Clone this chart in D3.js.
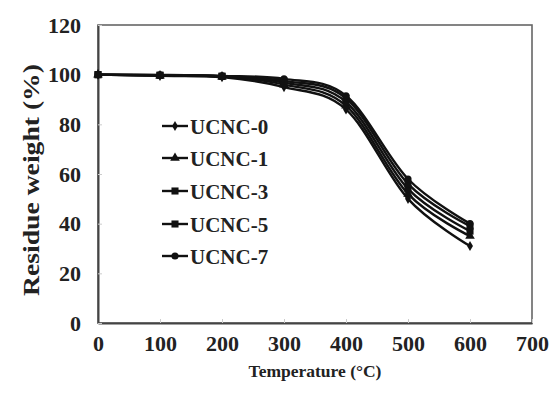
<!DOCTYPE html>
<html>
<head>
<meta charset="utf-8">
<script src="https://cdn.jsdelivr.net/npm/d3@7"></script>
<style>
  html, body { margin: 0; padding: 0; background: #fff; }
  svg { display: block; }
  text { font-family: "Liberation Serif", "Times New Roman", serif; font-weight: bold; fill: #222; }
</style>
</head>
<body>
<svg id="chart" width="554" height="401"></svg>
<script>
// TGA residue curves
const temperatures = [0, 100, 200, 300, 400, 500, 600];
const seriesNames = ["UCNC-0", "UCNC-1", "UCNC-3", "UCNC-5", "UCNC-7"];
const ucnc0 = [100, 99.5, 99.0, 95.0, 86.0, 50.0, 31.0];
const ucnc1 = [100, 99.6, 99.2, 96.0, 87.5, 52.0, 35.0];
const ucnc3 = [100, 99.7, 99.3, 96.8, 89.0, 54.0, 37.0];
const ucnc5 = [100, 99.8, 99.4, 97.5, 90.5, 56.0, 39.0];
const ucnc7 = [100, 99.9, 99.5, 98.3, 91.5, 58.0, 40.0];
const xTicks = [0, 100, 200, 300, 400, 500, 600, 700];
const yTicks = [0, 20, 40, 60, 80, 100, 120];
const markerTypes = ["diamond", "triangle", "square", "square", "circle"];

const seriesValues = [ucnc0, ucnc1, ucnc3, ucnc5, ucnc7];

const svg = d3.select("#chart");
const plot = { left: 98, right: 532, top: 25, bottom: 323 };

const x = d3.scaleLinear().domain([0, 700]).range([plot.left, plot.right]);
const y = d3.scaleLinear().domain([0, 120]).range([plot.bottom, plot.top]);

// plot frame
svg.append("rect")
  .attr("x", plot.left).attr("y", plot.top)
  .attr("width", plot.right - plot.left).attr("height", plot.bottom - plot.top)
  .attr("fill", "none").attr("stroke", "#666").attr("stroke-width", 1.6);

// axes with short inward ticks
const xAxis = svg.append("g")
  .attr("transform", `translate(0,${plot.bottom})`)
  .call(d3.axisBottom(x).tickValues(xTicks).tickSizeInner(-4).tickSizeOuter(0).tickPadding(24));
const yAxis = svg.append("g")
  .attr("transform", `translate(${plot.left},0)`)
  .call(d3.axisLeft(y).tickValues(yTicks).tickSizeInner(-4).tickSizeOuter(0).tickPadding(17));

[xAxis, yAxis].forEach(g => {
  g.select(".domain").attr("stroke", "#444").attr("stroke-width", 2);
  g.selectAll(".tick line").attr("stroke", "#ccc").attr("stroke-width", 1);
  g.selectAll(".tick text")
    .style("font-family", "'Liberation Serif', 'Times New Roman', serif")
    .style("font-weight", "bold")
    .style("font-size", "22px")
    .attr("fill", "#222");
});
xAxis.selectAll(".tick text").attr("dy", "0.2em");

// axis titles
svg.append("text")
  .attr("x", (plot.left + plot.right) / 2).attr("y", 377)
  .attr("text-anchor", "middle")
  .style("font-size", "17.5px")
  .text("Temperature (°C)");

svg.append("text")
  .attr("transform", "translate(39,180) rotate(-90)")
  .attr("text-anchor", "middle")
  .attr("textLength", 232)
  .attr("lengthAdjust", "spacingAndGlyphs")
  .style("font-size", "23px")
  .text("Residue weight (%)");

// marker shapes
function markerPath(type) {
  const sym = {
    diamond: d3.symbolDiamond,
    triangle: d3.symbolTriangle,
    square: d3.symbolSquare,
    circle: d3.symbolCircle
  }[type];
  const size = { diamond: 30, triangle: 40, square: 50, circle: 40 }[type];
  return d3.symbol().type(sym).size(size)();
}

const line = d3.line()
  .x((d, i) => x(temperatures[i]))
  .y(d => y(d))
  .curve(d3.curveCatmullRom.alpha(0));

const series = svg.append("g").selectAll("g.series")
  .data(seriesValues)
  .join("g").attr("class", "series");

series.append("path")
  .attr("d", d => line(d))
  .attr("fill", "none")
  .attr("stroke", "#111")
  .attr("stroke-width", 2.4);

series.each(function(vals, si) {
  d3.select(this).selectAll("path.mk")
    .data(vals)
    .join("path").attr("class", "mk")
    .attr("transform", (d, i) => `translate(${x(temperatures[i])},${y(d)})`)
    .attr("d", markerPath(markerTypes[si]))
    .attr("fill", "#111");
});

// legend
const legendY = [126, 158, 191, 224, 256];
const legend = svg.append("g").selectAll("g.lg")
  .data(seriesNames)
  .join("g").attr("class", "lg")
  .attr("transform", (d, i) => `translate(162,${legendY[i]})`);

legend.append("line")
  .attr("x1", 0).attr("x2", 26).attr("y1", 0).attr("y2", 0)
  .attr("stroke", "#111").attr("stroke-width", 2.4);
legend.append("path")
  .attr("transform", "translate(13,0)")
  .attr("d", (d, i) => markerPath(markerTypes[i]))
  .attr("fill", "#111");
legend.append("text")
  .attr("x", 28).attr("y", 7.5)
  .style("font-size", "21px")
  .text(d => d);
</script>
</body>
</html>
